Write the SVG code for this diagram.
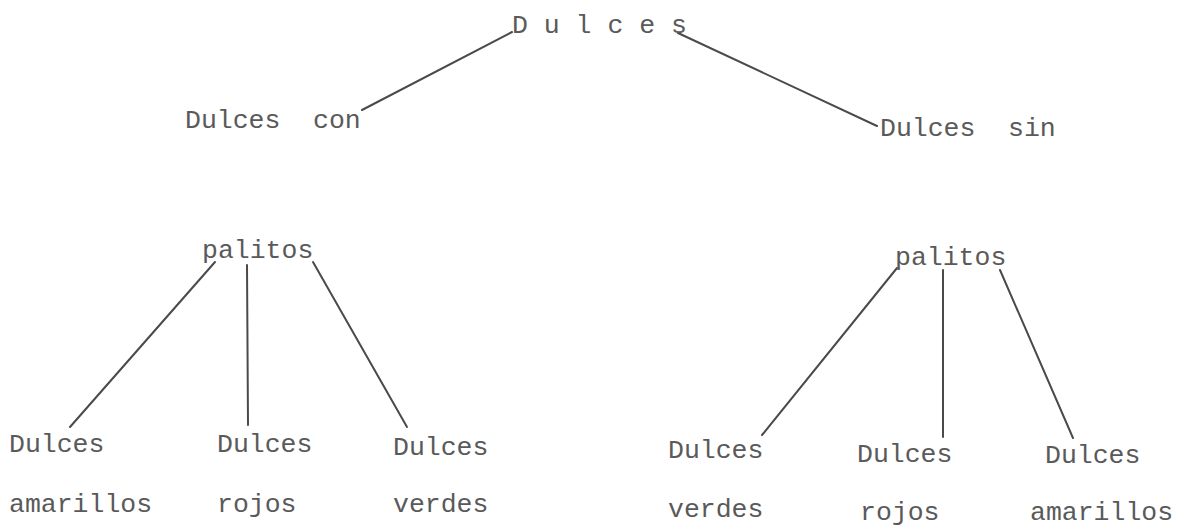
<svg xmlns="http://www.w3.org/2000/svg" width="1187" height="532" viewBox="0 0 1187 532">
<style>
text { font-family: "Liberation Mono", "DejaVu Sans Mono", monospace; font-size: 26.5px; fill: #5a5a5a; }
.ln { stroke: #4a4a4a; stroke-width: 2; fill: none; stroke-linecap: round; }
</style>
<rect width="1187" height="532" fill="#ffffff"/>
<g id="connectors">
<line class="ln" x1="512" y1="32" x2="362" y2="110"/>
<line class="ln" x1="678" y1="33" x2="877" y2="126"/>
<line class="ln" x1="215" y1="262" x2="70" y2="427"/>
<line class="ln" x1="247" y1="265" x2="248" y2="425"/>
<line class="ln" x1="313" y1="262" x2="407" y2="427"/>
<line class="ln" x1="897" y1="268" x2="762" y2="435"/>
<line class="ln" x1="943" y1="270" x2="943" y2="437"/>
<line class="ln" x1="1000" y1="270" x2="1073" y2="438"/>
</g>
<g id="root"><text x="512" y="33">D u l c e s</text></g>
<g id="con"><text x="185" y="128">Dulces<tspan x="313">con</tspan></text></g>
<g id="sin"><text x="880" y="136">Dulces<tspan x="1008">sin</tspan></text></g>
<g id="palitos-left"><text x="202" y="258">palitos</text></g>
<g id="palitos-right"><text x="895" y="265">palitos</text></g>
<g id="l-amarillos"><text x="9" y="452">Dulces</text><text x="9" y="512">amarillos</text></g>
<g id="l-rojos"><text x="217" y="452">Dulces</text><text x="217" y="512">rojos</text></g>
<g id="l-verdes"><text x="393" y="455">Dulces</text><text x="393" y="512">verdes</text></g>
<g id="r-verdes"><text x="668" y="458">Dulces</text><text x="668" y="517">verdes</text></g>
<g id="r-rojos"><text x="857" y="462">Dulces</text><text x="860" y="520">rojos</text></g>
<g id="r-amarillos"><text x="1045" y="463">Dulces</text><text x="1030" y="520">amarillos</text></g>
</svg>
